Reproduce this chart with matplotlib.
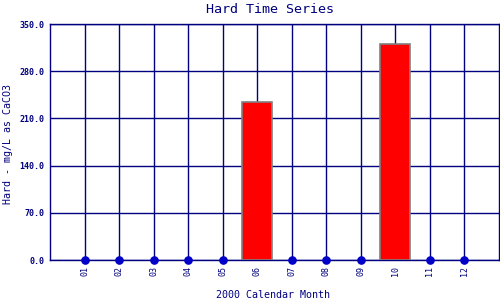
import matplotlib
matplotlib.use("Agg")
import matplotlib.pyplot as plt

# monthly hardness readings, 0 means no sample that month
months = list(range(1, 13))
month_labels = ["01", "02", "03", "04", "05", "06", "07", "08", "09", "10", "11", "12"]
hard = [0, 0, 0, 0, 0, 234, 0, 0, 0, 320, 0, 0]
y_ticks = [0, 70, 140, 210, 280, 350]

navy = "#000080"
mono = "DejaVu Sans Mono"

fig = plt.figure(figsize=(5, 3), dpi=100)
ax = fig.add_axes([0.1, 0.1333, 0.898, 0.7867])

# bars for months with a value, dots for the empty ones
bar_x = [m for m, v in zip(months, hard) if v > 0]
bar_v = [v for v in hard if v > 0]
dot_x = [m for m, v in zip(months, hard) if v == 0]
dot_v = [v for v in hard if v == 0]

ax.set_axisbelow(True)
ax.grid(True, color=navy, linewidth=1.0)
ax.bar(bar_x, bar_v, width=0.87, color="red", edgecolor="#808080", linewidth=1.2, zorder=3)
ax.plot(dot_x, dot_v, "o", color="#0000c8", markersize=5.2, clip_on=False, zorder=4)

ax.set_xlim(0, 13)
ax.set_ylim(0, 350)
ax.set_xticks(months)
ax.set_xticklabels(month_labels, rotation=90, fontsize=6, family=mono, color=navy)
ax.set_yticks(y_ticks)
ax.set_yticklabels(["%.1f" % t for t in y_ticks], fontsize=6, family=mono,
                   color=navy, fontweight="bold")
ax.tick_params(length=0, pad=4)

for s in ax.spines.values():
    s.set_color(navy)
    s.set_linewidth(1.0)

# title and axis labels placed by hand to sit where the original has them
fig.text(0.54, 287 / 300, "Hard Time Series", family=mono, fontsize=9.6,
         color=navy, ha="center", va="baseline")
fig.text(0.546, 2 / 300, "2000 Calendar Month", family=mono, fontsize=7.2,
         color=navy, ha="center", va="baseline")
fig.text(8.5 / 500, 156.5 / 300, "Hard - mg/L as CaCO3", family=mono, fontsize=7.2,
         color=navy, ha="center", va="center", rotation=90)

fig.savefig("out.png", dpi=100)
